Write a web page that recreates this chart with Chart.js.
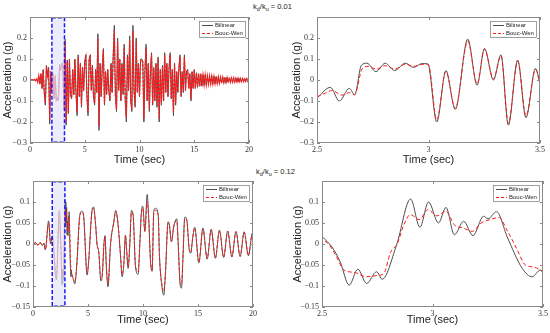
<!DOCTYPE html>
<html>
<head>
<meta charset="utf-8">
<script src="https://cdn.jsdelivr.net/npm/chart.js@4.4.1/dist/chart.umd.min.js"></script>
<style>
  body { margin: 0; width: 550px; height: 333px; background: #fff; position: relative; overflow: hidden; }
  canvas { position: absolute; }
  .kk { position: absolute; font: 7.5px "Liberation Sans", Arial, sans-serif; color: #222; line-height: 9px; white-space: nowrap; }
  .kk sub { font-size: 5.5px; vertical-align: -2px; line-height: 0; }
</style>
</head>
<body>
<div class="kk" style="left:253px;top:2px">k<sub>d</sub>/k<sub>u</sub> = 0.01</div>
<div class="kk" style="left:256px;top:167px">k<sub>d</sub>/k<sub>u</sub> = 0.12</div>
<canvas id="tl" width="275" height="167" style="left:0;top:0"></canvas>
<canvas id="tr" width="275" height="167" style="left:275px;top:0"></canvas>
<canvas id="bl" width="275" height="162" style="left:0;top:165px"></canvas>
<canvas id="br" width="275" height="162" style="left:275px;top:165px"></canvas>
<script>
var sampleStep = 0.1;
var tlBilinear = [
  0, 0, 0.002, -0.002, 0.003, -0.004, 0.005, -0.01, 0.02, -0.02,
  0.03, -0.04, 0.05, -0.06, -0.12, 0.07, 0.02, 0.06, -0.21, 0.04,
  -0.05, 0.03, -0.09, 0.02, -0.1, -0.085, -0.1, 0.075, 0.045, 0.08,
  0.078, -0.14, 0.195, -0.215, 0.095, -0.16, 0.1, -0.07, -0.09, 0.05,
  -0.07, 0.1, -0.06, -0.17, 0.12, -0.08, 0.08, -0.13, 0.06, -0.05,
  0.09, 0.12, -0.08, -0.17, 0.1, 0.12, -0.05, 0.07, -0.08, -0.12,
  0.05, -0.06, 0.22, -0.24, 0.08, -0.08, 0.06, 0.15, -0.12, 0.04,
  -0.07, 0.05, -0.05, -0.1, 0.08, -0.06, 0.12, 0.26, -0.08, -0.15,
  0.2, -0.05, 0.1, -0.1, 0.08, -0.07, 0.17, -0.1, -0.2, 0.12,
  -0.05, 0.21, -0.1, -0.15, 0.26, -0.05, -0.13, 0.2, -0.06, 0.08,
  -0.08, 0.1, 0.1, 0.09, -0.2, 0.05, 0.17, -0.1, 0.08, -0.15,
  0.05, 0.13, -0.12, 0.06, -0.1, 0.08, -0.13, 0.11, -0.2, 0.05,
  -0.12, 0.07, -0.1, 0.13, -0.06, 0.08, -0.08, 0.06, 0.13, -0.09,
  0.05, -0.17, 0.08, -0.12, 0.04, -0.06, 0.06, 0.12, -0.08, 0.04,
  -0.06, 0.12, -0.05, 0.04, 0.05, -0.04, 0.03, -0.1, 0.04, -0.04,
  0.05, -0.04, 0.035, -0.035, 0.03, -0.03, 0.03, -0.03, 0.025, -0.025,
  0.025, -0.025, 0.02, -0.02, 0.02, -0.02, 0.02, -0.02, 0.018, -0.018,
  0.017, -0.017, 0.016, -0.016, 0.015, -0.015, 0.014, -0.014, 0.013, -0.013,
  0.012, -0.012, 0.012, -0.011, 0.011, -0.011, 0.01, -0.01, 0.01, -0.01,
  0.009, -0.009, 0.009, -0.009, 0.008, -0.008, 0.008, -0.008, 0.007, -0.007,
  0
];
var tlBoucWen = [
  0, 0, 0.002, -0.002, 0.003, -0.004, 0.005, -0.01, 0.02, -0.02,
  0.03, -0.04, 0.045, -0.055, -0.11, 0.065, 0.02, 0.058, -0.19, 0.04,
  -0.05, 0.03, -0.085, 0.02, -0.095, -0.08, -0.072, 0.06, 0.055, 0.072,
  0.07, -0.135, 0.185, -0.2, 0.09, -0.15, 0.095, -0.07, -0.085, 0.05,
  -0.07, 0.095, -0.06, -0.155, 0.11, -0.075, 0.075, -0.12, 0.06, -0.05,
  0.085, 0.11, -0.075, -0.155, 0.095, 0.11, -0.05, 0.065, -0.075, -0.11,
  0.05, -0.06, 0.2, -0.22, 0.075, -0.075, 0.06, 0.14, -0.11, 0.04,
  -0.065, 0.05, -0.05, -0.095, 0.075, -0.06, 0.11, 0.235, -0.075, -0.14,
  0.185, -0.05, 0.095, -0.095, 0.075, -0.065, 0.155, -0.095, -0.18, 0.11,
  -0.05, 0.19, -0.095, -0.14, 0.235, -0.05, -0.12, 0.185, -0.055, 0.075,
  -0.075, 0.095, 0.095, 0.085, -0.185, 0.05, 0.155, -0.095, 0.075, -0.14,
  0.05, 0.12, -0.11, 0.055, -0.095, 0.075, -0.12, 0.1, -0.185, 0.05,
  -0.11, 0.065, -0.095, 0.12, -0.055, 0.075, -0.075, 0.055, 0.12, -0.085,
  0.05, -0.155, 0.075, -0.11, 0.04, -0.055, 0.055, 0.11, -0.075, 0.04,
  -0.055, 0.11, -0.05, 0.04, 0.045, -0.04, 0.03, -0.09, 0.04, -0.04,
  0.045, -0.04, 0.033, -0.033, 0.03, -0.03, 0.028, -0.028, 0.024, -0.024,
  0.023, -0.023, 0.02, -0.02, 0.019, -0.019, 0.018, -0.018, 0.017, -0.017,
  0.016, -0.016, 0.015, -0.015, 0.014, -0.014, 0.013, -0.013, 0.012, -0.012,
  0.012, -0.011, 0.011, -0.011, 0.01, -0.01, 0.01, -0.01, 0.009, -0.009,
  0.009, -0.009, 0.008, -0.008, 0.008, -0.008, 0.007, -0.007, 0.007, -0.007,
  0
];

// kd/ku = 0.01, close-up 2.5 - 3.5 s
var trBilinearTime = [2.5, 2.56, 2.6, 2.645, 2.669, 2.699, 2.724, 2.764, 2.806, 2.848, 2.896, 2.933, 2.97, 2.997,
  3.037, 3.078, 3.12, 3.176, 3.218, 3.251, 3.291, 3.325, 3.358, 3.4, 3.437, 3.48, 3.5];
var trBilinear = [-0.086, -0.035, -0.1, -0.04, -0.07, 0.07, 0.08, 0.04, 0.08, 0.045, 0.08, 0.06, 0.078, 0.077,
  -0.2, 0.045, -0.14, 0.195, -0.025, 0.15, 0.0, 0.12, -0.215, 0.095, -0.18, 0.055, -0.02];
var trBoucWenTime = [2.5, 2.537, 2.567, 2.612, 2.645, 2.669, 2.702, 2.732, 2.764, 2.806, 2.848, 2.896, 2.933, 2.978, 3.0,
  3.037, 3.078, 3.12, 3.176, 3.218, 3.251, 3.291, 3.325, 3.358, 3.4, 3.437, 3.48, 3.5];
var trBoucWen = [-0.08, -0.063, -0.05, -0.072, -0.06, -0.07, 0.052, 0.065, 0.052, 0.068, 0.052, 0.075, 0.065, 0.075, 0.072,
  -0.19, 0.04, -0.135, 0.185, -0.018, 0.148, 0.005, 0.115, -0.205, 0.09, -0.17, 0.05, -0.015];

// kd/ku = 0.12 (used by both bottom panels)
var btBilinearTime = [0, 0.25, 0.45, 0.65, 0.85, 1.0, 1.12, 1.42, 1.6, 1.75, 2.12, 2.4,
  2.5, 2.545, 2.582, 2.623, 2.662, 2.702, 2.747, 2.772, 2.837, 2.901, 2.943, 2.982, 3.027, 3.061, 3.099, 3.141,
  3.183, 3.231, 3.251, 3.29, 3.338, 3.406, 3.451, 3.488, 3.5,
  3.62, 3.8, 3.98, 4.25, 4.45, 4.6, 4.92, 5.05, 5.35, 5.5, 5.68, 5.82, 5.98, 6.17, 6.3, 6.45, 6.55, 6.66, 6.82,
  7.05, 7.35, 7.52, 7.72, 7.95, 8.1, 8.25, 8.41, 8.5, 8.65, 8.8, 8.95, 9.1, 9.32, 9.56, 9.71, 9.86, 9.98,
  10.17, 10.38, 10.53, 10.68, 10.83, 10.98, 11.13, 11.38, 11.5, 11.74, 11.89, 12.04, 12.28, 12.4, 12.58, 12.8,
  13.07, 13.2, 13.37, 13.5, 13.62, 13.8, 13.98, 14.19, 14.34, 14.52, 14.7, 15.08, 15.45, 15.83, 16.2, 16.58,
  16.95, 17.33, 17.7, 18.08, 18.45, 18.83, 19.2, 19.58, 19.95, 20];
var btBilinear = [0, 0.003, -0.003, 0.004, -0.004, 0.002, -0.014, 0.055, 0.0, 0.02, -0.085, 0.08,
  0.018, -0.007, -0.042, -0.098, -0.06, -0.094, -0.066, -0.084, -0.003, 0.107, 0.04, 0.1, 0.05, 0.087, 0.022, 0.054,
  0.02, 0.066, 0.06, 0.077, 0.017, -0.058, -0.078, -0.062, -0.068,
  -0.08, -0.095, -0.05, 0.068, 0.078, 0.068, -0.074, -0.045, 0.077, 0.088, 0.05, 0.0, -0.02, -0.088, -0.075, 0.0, 0.02, -0.05, -0.102,
  0.0, 0.053, 0.08, 0.05, -0.026, -0.078, -0.05, 0.021, -0.01, -0.058, 0.0, 0.08, 0.07, -0.055, -0.072, 0.0, 0.078, 0.09,
  0.03, 0.118, 0.055, -0.04, -0.065, 0.078, 0.085, 0.07, -0.03, -0.105, -0.122, -0.07, 0.053, 0.045, 0.005, 0.042,
  0.06, 0.0, -0.095, -0.105, -0.04, 0.064, 0.058, -0.01, -0.022, 0.015, 0.04, -0.045, 0.038, -0.036, 0.035, -0.034,
  0.033, -0.032, 0.031, -0.031, 0.03, -0.03, 0.029, -0.028, 0.026, 0.02];
var btBoucWenTime = [0, 0.25, 0.45, 0.65, 0.85, 1.0, 1.12, 1.42, 1.6, 1.75, 2.12, 2.4,
  2.5, 2.53, 2.56, 2.6, 2.65, 2.7, 2.75, 2.78, 2.81, 2.84, 2.87, 2.9, 2.94, 2.98, 3.02, 3.06, 3.1, 3.14,
  3.18, 3.22, 3.26, 3.3, 3.34, 3.38, 3.42, 3.46, 3.5,
  3.62, 3.8, 3.98, 4.25, 4.45, 4.6, 4.92, 5.05, 5.35, 5.5, 5.68, 5.82, 5.98, 6.17, 6.3, 6.45, 6.55, 6.66, 6.82,
  7.05, 7.35, 7.52, 7.72, 7.95, 8.1, 8.25, 8.41, 8.5, 8.65, 8.8, 8.95, 9.1, 9.32, 9.56, 9.71, 9.86, 9.98,
  10.17, 10.38, 10.53, 10.68, 10.83, 10.98, 11.13, 11.38, 11.5, 11.74, 11.89, 12.04, 12.28, 12.4, 12.58, 12.8,
  13.07, 13.2, 13.37, 13.5, 13.62, 13.8, 13.98, 14.19, 14.34, 14.52, 14.7, 15.08, 15.45, 15.83, 16.2, 16.58,
  16.95, 17.33, 17.7, 18.08, 18.45, 18.83, 19.2, 19.58, 19.95, 20];
var btBoucWen = [0, 0.003, -0.003, 0.004, -0.004, 0.002, -0.013, 0.05, 0.0, 0.018, -0.08, 0.075,
  0.011, 0.0, -0.025, -0.062, -0.068, -0.078, -0.075, -0.07, -0.02, 0.0, 0.045, 0.07, 0.058, 0.082, 0.067, 0.078, 0.045, 0.038,
  0.03, 0.05, 0.058, 0.063, 0.03, -0.01, -0.05, -0.055, -0.065,
  -0.078, -0.09, -0.05, 0.065, 0.076, 0.066, -0.07, -0.045, 0.075, 0.085, 0.05, 0.0, -0.02, -0.082, -0.072, 0.0, 0.018, -0.048, -0.095,
  0.0, 0.052, 0.078, 0.05, -0.025, -0.072, -0.05, 0.02, -0.01, -0.055, 0.0, 0.075, 0.068, -0.052, -0.066, 0.0, 0.075, 0.085,
  0.03, 0.1, 0.055, -0.04, -0.062, 0.075, 0.08, 0.068, -0.03, -0.1, -0.112, -0.068, 0.05, 0.045, 0.006, 0.042,
  0.056, 0.0, -0.09, -0.097, -0.04, 0.06, 0.056, -0.01, -0.02, 0.015, 0.038, -0.043, 0.036, -0.035, 0.034, -0.033,
  0.032, -0.031, 0.03, -0.03, 0.029, -0.029, 0.028, -0.027, 0.025, 0.02];

var seriesNames = ["Bilinear", "Bouc-Wen"];
var highlightTop = [2.0, 3.15];
var highlightBottom = [1.75, 2.9];

var tickFont = { family: "'Liberation Serif', 'Times New Roman', serif", size: 8 };
var yTitleFont = { family: "'Liberation Sans', Arial, sans-serif", size: 11 };
var xTitleFont = { family: "'Liberation Sans Narrow', 'Liberation Sans', Arial, sans-serif", size: 11 };
var legendFont = "6px 'Liberation Sans Narrow', 'Liberation Sans', Arial, sans-serif";

function fmt(v) {
  var r = Math.round(v * 1000) / 1000;
  if (r === 0) return "0";
  return (r < 0 ? "\u2212" : "") + Math.abs(r);
}

function pairs(times, values) {
  return values.map(function (v, i) { return { x: times[i], y: v }; });
}

function uniform(values) {
  return values.map(function (v, i) { return { x: Math.round(i * sampleStep * 10) / 10, y: v }; });
}

// box round the axes with small inward ticks on all four sides, plus the legend
var framePlugin = {
  id: "frame",
  afterDraw: function (chart) {
    var ctx = chart.ctx, a = chart.chartArea, x = chart.scales.x, y = chart.scales.y;
    ctx.save();
    ctx.strokeStyle = "#8a8a8a";
    ctx.lineWidth = 1;
    ctx.strokeRect(a.left + 0.5, a.top + 0.5, a.right - a.left - 1, a.bottom - a.top - 1);
    ctx.beginPath();
    x.ticks.forEach(function (t) {
      var px = Math.round(x.getPixelForValue(t.value)) + 0.5;
      ctx.moveTo(px, a.bottom); ctx.lineTo(px, a.bottom - 3);
      ctx.moveTo(px, a.top); ctx.lineTo(px, a.top + 3);
    });
    y.ticks.forEach(function (t) {
      var py = Math.round(y.getPixelForValue(t.value)) + 0.5;
      ctx.moveTo(a.left, py); ctx.lineTo(a.left + 3, py);
      ctx.moveTo(a.right, py); ctx.lineTo(a.right - 3, py);
    });
    ctx.stroke();

    var ds = chart.data.datasets;
    var w = 47, h = 17;
    var bx = a.right - 3 - w, by = a.top + 4;
    ctx.fillStyle = "#fff";
    ctx.fillRect(bx, by, w, h);
    ctx.strokeStyle = "#777";
    ctx.lineWidth = 0.7;
    ctx.strokeRect(bx + 0.5, by + 0.5, w - 1, h - 1);
    ctx.font = legendFont;
    ctx.textBaseline = "middle";
    ctx.fillStyle = "#222";
    ds.forEach(function (d, i) {
      var ly = by + 4.5 + i * 8;
      ctx.beginPath();
      ctx.strokeStyle = d.borderColor;
      ctx.lineWidth = 1;
      ctx.setLineDash(i === 1 ? [3, 2] : []);
      ctx.moveTo(bx + 3, ly); ctx.lineTo(bx + 14, ly);
      ctx.stroke();
      ctx.setLineDash([]);
      ctx.fillText(d.label, bx + 16, ly);
    });
    ctx.restore();
  }
};

function highlight(range) {
  return {
    id: "highlight",
    afterDatasetsDraw: function (chart) {
      var ctx = chart.ctx, a = chart.chartArea, x = chart.scales.x;
      var x0 = x.getPixelForValue(range[0]), x1 = x.getPixelForValue(range[1]);
      ctx.save();
      ctx.fillStyle = "rgba(228, 228, 250, 0.7)";
      ctx.fillRect(x0, a.top, x1 - x0, a.bottom - a.top);
      ctx.strokeStyle = "#1a1aff";
      ctx.lineWidth = 1.5;
      ctx.setLineDash([4, 2]);
      ctx.strokeRect(x0, a.top + 0.8, x1 - x0, a.bottom - a.top - 1.6);
      ctx.restore();
    }
  };
}

function makeChart(id, cfg) {
  var datasets = [
    { label: seriesNames[0], data: cfg.black, borderColor: "#4d4d4d", borderWidth: 1, order: 1,
      tension: 0, cubicInterpolationMode: cfg.smooth ? "monotone" : "default" },
    { label: seriesNames[1], data: cfg.red, borderColor: "#ff1a1a", borderWidth: cfg.redWidth || 1, borderDash: cfg.dash, order: 0,
      tension: 0, cubicInterpolationMode: cfg.smooth ? "monotone" : "default" }
  ];
  var plugins = [framePlugin];
  if (cfg.box) plugins.unshift(highlight(cfg.box));
  return new Chart(document.getElementById(id), {
    type: "line",
    data: { datasets: datasets },
    plugins: plugins,
    options: {
      responsive: false,
      animation: false,
      devicePixelRatio: 1,
      layout: { padding: cfg.pad },
      elements: { point: { radius: 0 } },
      plugins: { legend: { display: false }, tooltip: { enabled: false } },
      scales: {
        x: {
          type: "linear", min: cfg.xr[0], max: cfg.xr[1],
          grid: { display: false, drawTicks: false }, border: { display: false },
          ticks: { stepSize: cfg.xr[2], padding: 2, color: "#333", font: tickFont, maxRotation: 0, autoSkip: false,
            callback: function (v) { return fmt(v); } },
          title: { display: true, text: "Time (sec)", font: xTitleFont, color: "#222", padding: 0 },
          afterFit: function (s) { s.height = cfg.xh; }
        },
        y: {
          min: cfg.yr[0], max: cfg.yr[1],
          grid: { display: false, drawTicks: false }, border: { display: false },
          ticks: { stepSize: cfg.yr[2], padding: 3, color: "#333", font: tickFont, autoSkip: false,
            callback: function (v, i, t) { return i === t.length - 1 ? "" : fmt(v); } },
          title: { display: true, text: "Acceleration (g)", font: yTitleFont, color: "#222", padding: 0 },
          afterFit: function (s) { s.width = cfg.yw; }
        }
      }
    }
  });
}

makeChart("tl", {
  black: uniform(tlBilinear), red: uniform(tlBoucWen), smooth: false, dash: [3, 1], redWidth: 1.2,
  xr: [0, 20, 5], yr: [-0.3, 0.3, 0.1], pad: { left: 1, right: 26, top: 17, bottom: 0 },
  yw: 29, xh: 24, box: highlightTop
});
makeChart("tr", {
  black: pairs(trBilinearTime, trBilinear), red: pairs(trBoucWenTime, trBoucWen), smooth: true, dash: [4, 2.5],
  xr: [2.5, 3.5, 0.5], yr: [-0.3, 0.3, 0.1], pad: { left: 15, right: 10, top: 17, bottom: 0 },
  yw: 27, xh: 24
});
makeChart("bl", {
  black: pairs(btBilinearTime, btBilinear), red: pairs(btBoucWenTime, btBoucWen), smooth: true, dash: [3, 2],
  xr: [0, 20, 5], yr: [-0.15, 0.15, 0.05], pad: { left: 1, right: 22, top: 16, bottom: 0 },
  yw: 32, xh: 20, box: highlightBottom
});
makeChart("br", {
  black: pairs(btBilinearTime, btBilinear), red: pairs(btBoucWenTime, btBoucWen), smooth: true, dash: [4, 2.5],
  xr: [2.5, 3.5, 0.5], yr: [-0.15, 0.15, 0.05], pad: { left: 16, right: 6, top: 16, bottom: 0 },
  yw: 31, xh: 20
});
</script>
</body>
</html>
